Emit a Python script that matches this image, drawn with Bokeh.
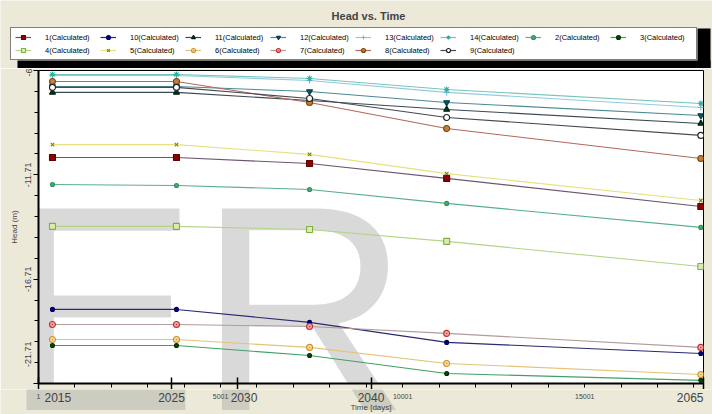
from bokeh.plotting import figure
from bokeh.layouts import column
from bokeh.models import Range1d, FixedTicker, Legend, LegendItem, Label, BoxAnnotation
from bokeh.embed import file_html
from bokeh.resources import INLINE

# ---------------- data ----------------
days = [385, 3790, 7445, 11210, 18190]          # time (days)

h1  = [-10.88, -10.88, -11.17, -11.88, -13.23]
h10 = [-18.16, -18.16, -18.78, -19.74, -20.27]
h11 = [-7.76, -7.76, -8.15, -8.58, -9.25]
h12 = [-7.48, -7.48, -7.72, -8.24, -8.87]
h13 = [-6.95, -6.95, -7.19, -7.76, -8.48]
h14 = [-6.90, -6.90, -7.09, -7.62, -8.29]
h2  = [-12.17, -12.22, -12.41, -13.08, -14.23]
h3  = [-19.89, -19.89, -20.37, -21.23, -21.56]
h4  = [-14.18, -14.18, -14.33, -14.90, -16.10]
h5  = [-10.26, -10.26, -10.73, -11.65, -12.94]
h6  = [-19.60, -19.60, -19.98, -20.75, -21.28]
h7  = [-18.88, -18.88, -18.98, -19.31, -19.98]
h8  = [-7.24, -7.24, -8.24, -9.49, -10.93]
h9  = [-7.52, -7.52, -8.05, -8.96, -9.82]

series_order = ["1", "10", "11", "12", "13", "14", "2", "3", "4", "5", "6", "7", "8", "9"]
series_vals = {"1": h1, "10": h10, "11": h11, "12": h12, "13": h13, "14": h14, "2": h2,
               "3": h3, "4": h4, "5": h5, "6": h6, "7": h7, "8": h8, "9": h9}

y_ticks = [-21.71, -16.71, -11.71, -6.71]
y_tick_labels = ["-21.71", "-16.71", "-11.71", "-6"]

year_days = [1, 3653, 5479, 9132, 18263]
year_labels = ["2015", "2025", "2030", "2040", "2065"]
day_ticks = [1, 5001, 10001, 15001]
day_labels = ["1", "5001", "10001", "15001"]

# ---------------- styles ----------------
styles = {
    "1":  ("square", "#6e5670", "#8b0000", "#600000", 6),
    "10": ("circle", "#2a2a72", "#000080", "#000060", 4),
    "11": ("triangle", "#3a4a55", "#003820", "#002010", 6),
    "12": ("inverted_triangle", "#4a8a95", "#005a6a", "#004050", 6),
    "13": ("cross", "#90cce0", "#70b8e0", "#70b8e0", 6),
    "14": ("asterisk", "#78c4bc", "#30b0a0", "#30b0a0", 6),
    "2":  ("circle", "#5aae90", "#40b070", "#309060", 4),
    "3":  ("circle", "#40a068", "#004d00", "#003000", 4),
    "4":  ("square", "#b4d488", "#d8ecb0", "#80b040", 6),
    "5":  ("x", "#e8e080", "#808000", "#808000", 5),
    "6":  ("circle_dot", "#e2c478", "#f5dc98", "#d09030", 6),
    "7":  ("circle_dot", "#b49a9a", "#f0a8a8", "#c03030", 6),
    "8":  ("circle", "#b46858", "#c08040", "#804000", 6),
    "9":  ("circle", "#484850", "white", "#202020", 6),
}

FONT = "Liberation Sans"
BEIGE = "#ECE9D8"
W = 712
LEFT, RIGHT = 38, 9
NBSP = "\u00a0"
X0, X1 = 1, 18263                      # time axis range (days)
k = (X1 - X0) / (W - LEFT - RIGHT)     # days per pixel on the time axis

# ---------------- top strip: title + legend ----------------
top = figure(width=W, height=68, x_range=Range1d(0, W), y_range=Range1d(0, 68),
             x_axis_type=None, y_axis_type=None, output_backend="svg",
             toolbar_location=None, min_border=0)
top.frame_align = False
top.border_fill_color = BEIGE
top.background_fill_color = BEIGE
top.outline_line_color = None

top.add_layout(Label(x=368, y=53, text="Head vs. Time", text_font=FONT,
                     text_font_size="11px", text_font_style="bold",
                     text_align="center", text_baseline="middle"))
# legend shadow
top.add_layout(BoxAnnotation(left=17, right=710, bottom=0, top=8,
                             fill_color="black", fill_alpha=1, line_color=None))
top.add_layout(BoxAnnotation(left=697, right=710, bottom=0, top=40,
                             fill_color="black", fill_alpha=1, line_color=None))

items = []
for name in series_order:
    marker, lc, fc, mc, sz = styles[name]
    vals = series_vals[name]          # lies outside this strip's range: only the legend shows
    rl = top.line(days, vals, line_color=lc, line_width=1.2)
    rm = top.scatter(days, vals, marker=marker, size=sz, fill_color=fc, line_color=mc,
                     line_width=1.1)
    items.append(LegendItem(label=f"{name}(Calculated)", renderers=[rl, rm]))

legend = Legend(items=items, ncols=8, orientation="horizontal", location=(10, 8),
                label_text_font=FONT, label_text_font_size="7.5px", label_text_color="black",
                label_height=10, label_width=52, glyph_height=10, glyph_width=16,
                label_standoff=14, spacing=3, padding=4, margin=0,
                border_line_color="black", border_line_width=1,
                background_fill_color="white", background_fill_alpha=1)
top.add_layout(legend)

# ---------------- main chart ----------------
p = figure(width=W, height=321,
           x_range=Range1d(X0, X1), y_range=Range1d(-21.71, -6.71),
           output_backend="svg", toolbar_location=None,
           min_border_left=LEFT, min_border_right=RIGHT, min_border_top=2, min_border_bottom=6)
p.border_fill_color = BEIGE
p.background_fill_color = "white"
p.outline_line_color = "black"
p.outline_line_width = 1
p.xgrid.visible = False
p.ygrid.visible = False

# watermark letters
p.add_layout(Label(x=-36, y=75, x_units="screen", y_units="screen", text="ER",
                   text_font=FONT, text_font_size="293px", text_color="#a0a0a0",
                   text_alpha=0.4, text_baseline="middle", level="underlay"))

# x axis (labels drawn in the strip below)
minor_days = [1 + 1000 * i for i in range(1, 19)]
p.xaxis.ticker = FixedTicker(ticks=year_days, minor_ticks=minor_days)
p.xaxis.major_label_text_font_size = "1px"
p.xaxis.major_label_text_color = None
p.xaxis.major_label_standoff = 0
p.xaxis.axis_line_width = 2
p.xaxis.major_tick_in = 6
p.xaxis.major_tick_out = 6
p.xaxis.minor_tick_in = 0
p.xaxis.minor_tick_out = 4
p.xaxis.major_tick_line_width = 1.5

# y axis
y_minor = [round(-21.71 + i, 2) for i in range(16)]
overrides = {t: l for t, l in zip(y_ticks, y_tick_labels)}
overrides[-21.71] = NBSP * 9 + "-21.71"     # label sits above the axis end, as in the reference
p.yaxis.ticker = FixedTicker(ticks=y_ticks, minor_ticks=y_minor)
p.yaxis.major_label_overrides = overrides
p.yaxis.major_label_orientation = "vertical"
p.yaxis.major_label_text_font = FONT
p.yaxis.major_label_text_font_size = "9px"
p.yaxis.major_label_standoff = 0
p.yaxis.axis_line_width = 2
p.yaxis.major_tick_in = 0
p.yaxis.major_tick_out = 5
p.yaxis.minor_tick_in = 0
p.yaxis.minor_tick_out = 4
p.yaxis.axis_label = "Head (m)"
p.yaxis.axis_label_text_font = FONT
p.yaxis.axis_label_text_font_size = "8px"
p.yaxis.axis_label_text_font_style = "normal"
p.yaxis.axis_label_standoff = 2

# series
for name in series_order:
    marker, lc, fc, mc, sz = styles[name]
    vals = series_vals[name]
    p.line(days, vals, line_color=lc, line_width=1.1)
    p.scatter(days, vals, marker=marker, size=sz, fill_color=fc, line_color=mc,
              line_width=1.1)

# ---------------- bottom strip: x tick labels ----------------
bot = figure(width=W, height=25, x_range=Range1d(X0 - LEFT * k, X1 + RIGHT * k),
             y_range=Range1d(0, 25),
             x_axis_type=None, y_axis_type=None, output_backend="svg",
             toolbar_location=None, min_border=0)
bot.frame_align = False
bot.border_fill_color = BEIGE
bot.background_fill_color = BEIGE
bot.outline_line_color = None
bot.add_layout(Label(x=2, y=106, x_units="screen", y_units="screen", text="ER",
                     text_font=FONT, text_font_size="293px", text_color="#a0a0a0",
                     text_alpha=0.4, text_baseline="middle", level="underlay"))

for d, t in zip(day_ticks, day_labels):
    bot.add_layout(Label(x=d, y=18, text=t, text_font=FONT, text_font_size="7px",
                         text_align="center", text_baseline="middle"))
for d, t in zip(year_days, year_labels):
    if t == "2015":
        align, xo = "left", 6
    elif t == "2065":
        align, xo = "right", 0
    elif t == "2030":
        align, xo = "center", 6
    else:
        align, xo = "center", 0
    bot.add_layout(Label(x=d, y=17, x_offset=xo, text=t, text_font=FONT,
                         text_font_size="12px", text_align=align, text_baseline="middle"))
bot.add_layout(Label(x=9132, y=7, text="Time [days]", text_font=FONT, text_font_size="8px",
                     text_align="center", text_baseline="middle"))

layout = column(top, p, bot, spacing=0)
open("out.html", "w").write(file_html(layout, INLINE))
